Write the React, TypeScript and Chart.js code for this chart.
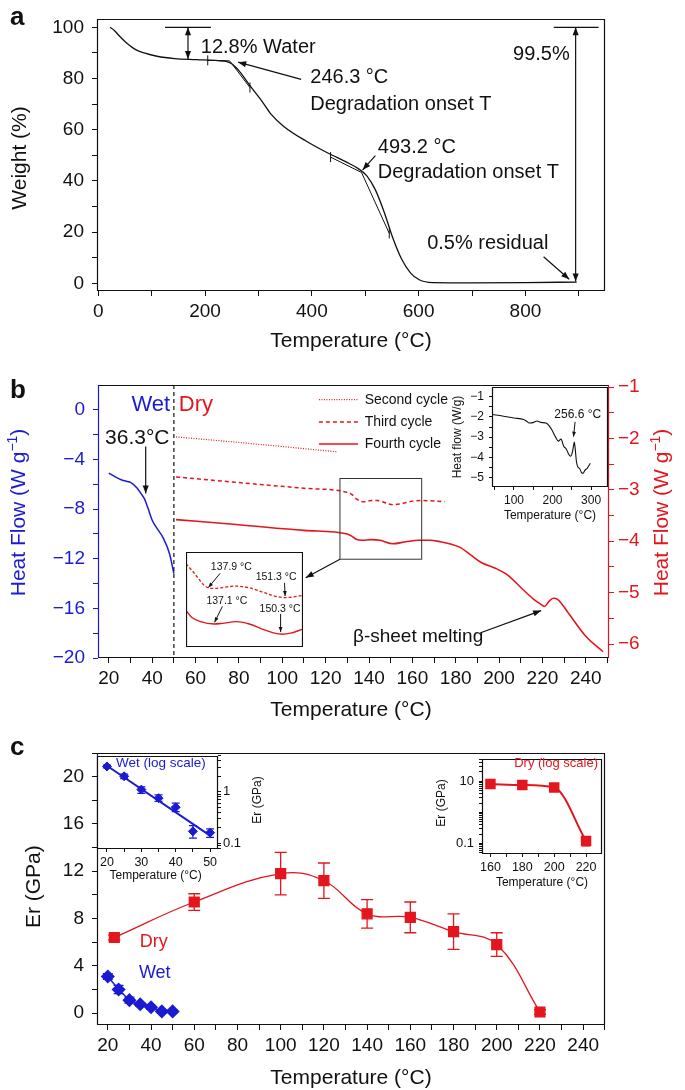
import React, { useEffect, useRef } from 'react';
import { Chart, registerables } from 'chart.js';

Chart.register(...registerables);

const FONT = '"Liberation Sans", Arial, Helvetica, sans-serif';
Chart.defaults.font.family = FONT;

const RED = '#e3161e';
const BLUE = '#1b1bd3';
const BLACK = '#111111';
const MINUS = '\u2212';

// ================= Panel a : TGA =================
const tgaTemp = [22, 30, 40, 53, 70, 86, 110, 143, 184, 225, 241, 250, 258, 266, 274, 282, 290, 307, 323, 348, 389, 429, 470, 487, 503, 519, 536, 552, 568, 585, 601, 626, 700, 800, 896];
const tgaWeight = [100, 98.8, 96.5, 93.9, 91.3, 90.0, 88.7, 87.8, 87.4, 87.0, 86.6, 85.8, 84.3, 82.4, 80.2, 77.8, 75.6, 71.0, 66.2, 61.2, 55.6, 51.0, 46.8, 44.8, 42.0, 36.5, 27.5, 17.5, 9.5, 4.0, 1.4, 0.3, 0.2, 0.3, 0.5];
const onset1Temp = [205, 246, 284];
const onset1Weight = [87.1, 86.9, 76.5];
const onset2Temp = [435, 493, 545];
const onset2Weight = [49.3, 43.3, 19.5];
const onsetMarkTemp = [205, 284, 435, 545];
const onsetMarkWeight = [87.1, 76.5, 49.3, 19.5];
const tgaXTicks = [0, 100, 200, 300, 400, 500, 600, 700, 800, 900];
const tgaXLabels = [0, 200, 400, 600, 800];
const tgaYTicks = [0, 10, 20, 30, 40, 50, 60, 70, 80, 90, 100];
const tgaYLabels = [0, 20, 40, 60, 80, 100];

// ================= Panel b : DSC =================
const wetDscTemp = [20, 23, 26, 28, 30, 33, 35, 36.5, 38, 40, 42, 45, 48, 50];
const wetDscFlow = [-5.1, -5.4, -5.65, -5.75, -5.85, -6.3, -6.8, -7.2, -7.9, -8.9, -9.5, -10.3, -11.6, -13.2];
const secondTemp = [51, 88, 125];
const secondFlow = [-1.97, -2.11, -2.26];
const thirdTemp = [51, 80, 110, 130, 132, 134, 136, 138, 141, 144, 148, 151, 155, 160, 165, 175];
const thirdFlow = [-2.75, -2.86, -2.97, -3.05, -3.09, -3.17, -3.22, -3.23, -3.21, -3.21, -3.26, -3.29, -3.27, -3.22, -3.21, -3.23];
const fourthTemp = [51, 80, 110, 130, 132, 134, 137, 141, 145, 151, 157, 163, 168, 173, 178, 182, 187, 192, 198, 204, 210, 216, 219, 221, 223, 225, 227, 232, 240, 248];
const fourthFlow = [-3.58, -3.68, -3.79, -3.86, -3.9, -3.96, -3.98, -3.97, -3.98, -4.05, -4.01, -3.98, -3.98, -4.01, -4.06, -4.12, -4.27, -4.42, -4.52, -4.66, -4.9, -5.13, -5.22, -5.27, -5.17, -5.11, -5.13, -5.4, -5.85, -6.15];
const dscXTicks = [20, 30, 40, 50, 60, 70, 80, 90, 100, 110, 120, 130, 140, 150, 160, 170, 180, 190, 200, 210, 220, 230, 240, 250];
const dscXLabels = [20, 40, 60, 80, 100, 120, 140, 160, 180, 200, 220, 240];
const wetFlowTicks = [-20, -18, -16, -14, -12, -10, -8, -6, -4, -2, 0];
const wetFlowLabels = [-20, -16, -12, -8, -4, 0];
const dryFlowTicks = [-6, -5.5, -5, -4.5, -4, -3.5, -3, -2.5, -2, -1.5, -1];
const dryFlowLabels = [-6, -5, -4, -3, -2, -1];

// zoomed inset (third / fourth cycle, 134-155 °C)
const zoomThirdTemp = [133.7, 134.7, 135.9, 137.1, 138.7, 140.2, 142.6, 145.0, 147.3, 149.7, 151.3, 152.8, 154.6];
const zoomThirdFlow = [-0.125, -0.189, -0.278, -0.359, -0.384, -0.374, -0.359, -0.377, -0.42, -0.466, -0.48, -0.473, -0.456];
const zoomFourthTemp = [133.7, 134.7, 136.3, 138.7, 140.2, 142.6, 145.0, 147.3, 149.3, 150.9, 152.4, 154.6];
const zoomFourthFlow = [-0.616, -0.687, -0.733, -0.758, -0.751, -0.733, -0.758, -0.811, -0.851, -0.865, -0.854, -0.811];

// DSC inset (W/g, up to 300 °C)
const insetDscTemp = [45, 70, 100, 125, 132, 140, 150, 160, 170, 183, 192, 200, 208, 215, 222, 229, 236, 242, 247, 251, 254, 256.6, 259, 262, 266, 270, 275, 279, 284, 290, 298];
const insetDscFlow = [-1.88, -1.95, -2.05, -2.12, -2.2, -2.3, -2.28, -2.2, -2.27, -2.3, -2.45, -2.7, -3.0, -3.2, -3.1, -3.45, -3.6, -3.85, -3.95, -3.8, -3.5, -3.25, -3.6, -4.2, -4.5, -4.55, -4.75, -4.8, -4.65, -4.55, -4.3];
const insetDscXTicks = [50, 100, 150, 200, 250, 300];
const insetDscXLabels = [100, 200, 300];
const insetDscYTicks = [-5, -4.5, -4, -3.5, -3, -2.5, -2, -1.5, -1];
const insetDscYLabels = [-5, -4, -3, -2, -1];

// ================= Panel c : Er =================
const erDryTemp = [23, 60, 100, 120, 140, 160, 180, 200, 220];
const erDry = [6.4, 9.4, 11.8, 11.2, 8.4, 8.1, 6.9, 5.8, 0.1];
const erDryErr = [0.2, 0.7, 1.8, 1.5, 1.2, 1.3, 1.5, 1.0, 0.2];
const erWetTemp = [20, 25, 30, 35, 40, 45, 50];
const erWet = [3.1, 2.0, 1.1, 0.75, 0.5, 0.15, 0.15];
const erWetErr = [0.25, 0.35, 0.25, 0.15, 0.15, 0.1, 0.1];
const erXTicks = [20, 30, 40, 50, 60, 70, 80, 90, 100, 110, 120, 130, 140, 150, 160, 170, 180, 190, 200, 210, 220, 230, 240, 250];
const erXLabels = [20, 40, 60, 80, 100, 120, 140, 160, 180, 200, 220, 240];
const erYTicks = [0, 2, 4, 6, 8, 10, 12, 14, 16, 18, 20, 22];
const erYLabels = [0, 4, 8, 12, 16, 20];

// wet log inset
const logWetTemp = [20, 25, 30, 35, 40, 45, 50];
const logWetEr = [3.1, 2.0, 1.1, 0.75, 0.5, 0.17, 0.16];
const logWetLow = [2.9, 1.8, 0.93, 0.65, 0.41, 0.125, 0.13];
const logWetHigh = [3.3, 2.2, 1.24, 0.87, 0.6, 0.22, 0.19];
const logWetFitTemp = [20, 50];
const logWetFitEr = [3.2, 0.14];
const logWetXTicks = [20, 25, 30, 35, 40, 45, 50];
const logWetXLabels = [20, 30, 40, 50];
const logWetYTicks = [0.08, 0.09, 0.1, 0.2, 0.3, 0.4, 0.5, 0.6, 0.7, 0.8, 0.9, 1, 2, 3, 4, 5];
const logWetYLabels = [0.1, 1];

// dry log inset
const logDryTemp = [160, 180, 200, 220];
const logDryEr = [8.2, 7.6, 6.3, 0.12];
const logDryLow = [7.0, 6.2, 5.5, 0.085];
const logDryHigh = [9.4, 9.1, 7.1, 0.16];
const logDryXTicks = [160, 170, 180, 190, 200, 210, 220];
const logDryXLabels = [160, 180, 200, 220];
const logDryYTicks = [0.05, 0.06, 0.07, 0.08, 0.09, 0.1, 0.2, 0.3, 0.4, 0.5, 0.6, 0.7, 0.8, 0.9, 1, 2, 3, 4, 5, 6, 7, 8, 9, 10, 20, 30, 40, 50];
const logDryYLabels = [0.1, 10];

// ================= helpers =================
const fmtNum = (v: number) => (v < 0 ? MINUS + String(Math.abs(v)) : String(v));
const pts = (xs: number[], ys: number[]) => xs.map((x, i) => ({ x, y: ys[i] }));

function mkAxis(s: any) {
  const color = s.color ?? BLACK;
  const vertical = s.position === 'left' || s.position === 'right';
  return {
    type: s.type ?? 'linear',
    position: s.position,
    min: s.min,
    max: s.max,
    afterBuildTicks: (axis: any) => {
      axis.ticks = s.ticks.map((v: number) => ({ value: v }));
    },
    afterFit: (axis: any) => {
      if (vertical) axis.width = s.size;
      else axis.height = s.size;
    },
    grid: { drawOnChartArea: false, drawTicks: true, tickLength: s.tickLen ?? 5, color, tickColor: color, tickWidth: 1 },
    border: { display: false },
    ticks: {
      autoSkip: false,
      maxRotation: 0,
      minRotation: 0,
      padding: s.pad ?? 4,
      color,
      font: { family: FONT, size: s.font ?? 19 },
      callback: (v: any) => (s.labels.some((l: number) => Math.abs(l - Number(v)) < 1e-9) ? fmtNum(Number(v)) : ''),
    },
  };
}

function series(xs: number[], ys: number[], color: string, width: number, extra: any = {}) {
  return {
    data: pts(xs, ys),
    showLine: true,
    borderColor: color,
    backgroundColor: color,
    borderWidth: width,
    pointRadius: 0,
    cubicInterpolationMode: 'monotone',
    ...extra,
  };
}

function baseOptions(padding: any, scales: any) {
  return {
    responsive: false,
    animation: false,
    devicePixelRatio: 1,
    events: [],
    layout: { padding },
    plugins: { legend: { display: false }, tooltip: { enabled: false }, title: { display: false } },
    scales,
  };
}

function txt(ctx: any, s: string, x: number, y: number, size: number, color = BLACK, align = 'left', weight = 'normal', baseline = 'middle') {
  ctx.save();
  ctx.font = `${weight} ${size}px ${FONT}`;
  ctx.fillStyle = color;
  ctx.textAlign = align;
  ctx.textBaseline = baseline;
  ctx.fillText(s, x, y);
  ctx.restore();
}

// text made of parts (normal / superscript), rotated -90° when vertical
function rich(ctx: any, parts: Array<[string, boolean]>, cx: number, cy: number, size: number, color: string, vertical = true) {
  ctx.save();
  ctx.translate(cx, cy);
  if (vertical) ctx.rotate(-Math.PI / 2);
  const sup = size * 0.66;
  let total = 0;
  const widths = parts.map(([s, isSup]) => {
    ctx.font = `${isSup ? sup : size}px ${FONT}`;
    const w = ctx.measureText(s).width;
    total += w;
    return w;
  });
  let x = -total / 2;
  ctx.fillStyle = color;
  ctx.textAlign = 'left';
  ctx.textBaseline = 'middle';
  parts.forEach(([s, isSup], i) => {
    ctx.font = `${isSup ? sup : size}px ${FONT}`;
    ctx.fillText(s, x, isSup ? -size * 0.3 : 0);
    x += widths[i];
  });
  ctx.restore();
}

function seg(ctx: any, x1: number, y1: number, x2: number, y2: number, color = BLACK, lw = 1, dash: number[] = []) {
  ctx.save();
  ctx.strokeStyle = color;
  ctx.lineWidth = lw;
  ctx.setLineDash(dash);
  ctx.beginPath();
  ctx.moveTo(x1, y1);
  ctx.lineTo(x2, y2);
  ctx.stroke();
  ctx.restore();
}

function arrow(ctx: any, x1: number, y1: number, x2: number, y2: number, both = false, head = 8, lw = 1.2, color = BLACK) {
  ctx.save();
  ctx.strokeStyle = color;
  ctx.fillStyle = color;
  ctx.lineWidth = lw;
  ctx.beginPath();
  ctx.moveTo(x1, y1);
  ctx.lineTo(x2, y2);
  ctx.stroke();
  const hd = (xa: number, ya: number, xb: number, yb: number) => {
    const a = Math.atan2(yb - ya, xb - xa);
    const c = Math.cos(a), s = Math.sin(a);
    const w = head * 0.38;
    ctx.beginPath();
    ctx.moveTo(xb, yb);
    ctx.lineTo(xb - head * c + w * s, yb - head * s - w * c);
    ctx.lineTo(xb - head * c - w * s, yb - head * s + w * c);
    ctx.closePath();
    ctx.fill();
  };
  hd(x1, y1, x2, y2);
  if (both) hd(x2, y2, x1, y1);
  ctx.restore();
}

function frame(ctx: any, ca: any, c: any = {}) {
  const l = Math.round(ca.left) + 0.5, r = Math.round(ca.right) - 0.5, t = Math.round(ca.top) + 0.5, b = Math.round(ca.bottom) - 0.5;
  seg(ctx, l - 0.5, t, r + 0.5, t, c.top ?? BLACK, 1.2);
  seg(ctx, l - 0.5, b, r + 0.5, b, c.bottom ?? BLACK, 1.2);
  seg(ctx, l, t, l, b, c.left ?? BLACK, 1.2);
  seg(ctx, r, t, r, b, c.right ?? BLACK, 1.2);
}

const whiteBg = {
  id: 'whiteBg',
  beforeDatasetsDraw(chart: any) {
    const { ctx, chartArea: ca } = chart;
    ctx.save();
    ctx.fillStyle = '#ffffff';
    ctx.fillRect(ca.left, ca.top, ca.right - ca.left, ca.bottom - ca.top);
    ctx.restore();
  },
};

const errorBars = {
  id: 'errorBars',
  afterDatasetsDraw(chart: any) {
    const ctx = chart.ctx;
    chart.data.datasets.forEach((ds: any, i: number) => {
      if (!ds.errLo) return;
      const meta = chart.getDatasetMeta(i);
      const xs = chart.scales[meta.xAxisID];
      const ys = chart.scales[meta.yAxisID];
      const cap = ds.errCap ?? 5;
      ctx.save();
      ctx.strokeStyle = ds.borderColor;
      ctx.lineWidth = ds.errWidth ?? 1.3;
      ds.data.forEach((p: any, j: number) => {
        const x = xs.getPixelForValue(p.x);
        const y1 = ys.getPixelForValue(ds.errLo[j]);
        const y2 = ys.getPixelForValue(ds.errHi[j]);
        ctx.beginPath();
        ctx.moveTo(x, y1);
        ctx.lineTo(x, y2);
        ctx.moveTo(x - cap, y1);
        ctx.lineTo(x + cap, y1);
        ctx.moveTo(x - cap, y2);
        ctx.lineTo(x + cap, y2);
        ctx.stroke();
      });
      ctx.restore();
    });
  },
};

// ================= configs =================
function configA(): any {
  const draw = (chart: any) => {
    const { ctx, chartArea: ca } = chart;
    const X = (v: number) => chart.scales.x.getPixelForValue(v);
    const Y = (v: number) => chart.scales.y.getPixelForValue(v);
    frame(ctx, ca);
    seg(ctx, X(125), Y(100), X(211), Y(100), BLACK, 1.3);
    arrow(ctx, X(168), Y(100), X(168), Y(87.6), true, 8);
    txt(ctx, '12.8% Water', X(192), Y(92), 20);
    arrow(ctx, X(380), Y(79.7), X(262), Y(86.4));
    txt(ctx, '246.3 °C', X(397), Y(80.3), 20);
    txt(ctx, 'Degradation onset T', X(397), Y(70), 20);
    txt(ctx, '493.2 °C', X(523.5), Y(53.1), 20);
    txt(ctx, 'Degradation onset T', X(523.5), Y(43.4), 20);
    arrow(ctx, X(519), Y(49.9), X(495), Y(44.3));
    txt(ctx, '99.5%', X(883), Y(89.4), 20, BLACK, 'right');
    seg(ctx, X(853), Y(100), X(937), Y(100), BLACK, 1.3);
    arrow(ctx, X(894), Y(100), X(894), Y(0.7), true, 8);
    txt(ctx, '0.5% residual', X(616), Y(15.5), 20);
    arrow(ctx, X(834), Y(10.4), X(882), Y(1.6));
    rich(ctx, [['Weight (%)', false]], 20, 158, 21, BLACK);
    txt(ctx, 'Temperature (°C)', 351, 341, 21, BLACK, 'center');
    txt(ctx, 'a', 10, 25, 26, BLACK, 'left', 'bold', 'alphabetic');
  };
  return {
    type: 'scatter',
    data: {
      datasets: [
        series(tgaTemp, tgaWeight, BLACK, 1.3),
        series(onset1Temp, onset1Weight, BLACK, 1, { cubicInterpolationMode: 'default', tension: 0 }),
        series(onset2Temp, onset2Weight, BLACK, 1, { cubicInterpolationMode: 'default', tension: 0 }),
        { data: pts(onsetMarkTemp, onsetMarkWeight), showLine: false, pointStyle: 'line', rotation: 90, pointRadius: 5, borderColor: BLACK, borderWidth: 1 },
      ],
    },
    options: baseOptions(
      { left: 0, right: 80, top: 18, bottom: 0 },
      {
        x: mkAxis({ position: 'bottom', min: -2.4, max: 949, ticks: tgaXTicks, labels: tgaXLabels, size: 71, pad: 4 }),
        y: mkAxis({ position: 'left', min: -3, max: 103.1, ticks: tgaYTicks, labels: tgaYLabels, size: 97, pad: 8 }),
      }
    ),
    plugins: [{ id: 'decoA', afterDraw: draw }],
  };
}

function configB(): any {
  const draw = (chart: any) => {
    const { ctx, chartArea: ca } = chart;
    const X = (v: number) => chart.scales.x.getPixelForValue(v);
    const YB = (v: number) => chart.scales.y.getPixelForValue(v);
    const YR = (v: number) => chart.scales.y2.getPixelForValue(v);
    frame(ctx, ca, { left: BLUE, right: RED });
    seg(ctx, X(50), ca.top, X(50), ca.bottom, BLACK, 1.2, [4, 3]);
    txt(ctx, 'Wet', X(48.3), YB(0.4), 22, BLUE, 'right');
    txt(ctx, 'Dry', X(52.3), YB(0.4), 22, RED, 'left');
    txt(ctx, '36.3°C', X(33.1), YB(-2.28), 21, BLACK, 'center');
    arrow(ctx, X(37), YB(-2.95), X(37), YB(-6.75));
    // legend
    const lx1 = X(116.9), lx2 = X(135), tx = X(138);
    seg(ctx, lx1, YR(-1.246), lx2, YR(-1.246), RED, 1.2, [1, 1.5]);
    txt(ctx, 'Second cycle', tx, YR(-1.246), 14);
    seg(ctx, lx1, YR(-1.68), lx2, YR(-1.68), RED, 1.5, [4, 3]);
    txt(ctx, 'Third cycle', tx, YR(-1.68), 14);
    seg(ctx, lx1, YR(-2.11), lx2, YR(-2.11), RED, 1.6);
    txt(ctx, 'Fourth cycle', tx, YR(-2.11), 14);
    // zoom box
    ctx.save();
    ctx.strokeStyle = '#333';
    ctx.lineWidth = 1;
    ctx.strokeRect(X(126.6), YR(-2.78), X(164.3) - X(126.6), YR(-4.35) - YR(-2.78));
    ctx.restore();
    arrow(ctx, X(126.6), YR(-4.35), X(110.8), YR(-4.71));
    txt(ctx, 'β-sheet melting', X(132.6), YR(-5.86), 19);
    arrow(ctx, X(191.5), YR(-5.78), X(219.4), YR(-5.35));
    rich(ctx, [['Heat Flow (W g', false], [MINUS + '1', true], [')', false]], 19.5, 150.5, 21, BLUE);
    rich(ctx, [['Heat Flow (W g', false], [MINUS + '1', true], [')', false]], 662, 150.5, 21, RED);
    txt(ctx, 'Temperature (°C)', 351, 348, 21, BLACK, 'center');
    txt(ctx, 'b', 10, 36, 26, BLACK, 'left', 'bold', 'alphabetic');
  };
  return {
    type: 'scatter',
    data: {
      datasets: [
        series(wetDscTemp, wetDscFlow, BLUE, 1.5, { yAxisID: 'y' }),
        series(secondTemp, secondFlow, RED, 1.2, { yAxisID: 'y2', borderDash: [1, 1.5] }),
        series(thirdTemp, thirdFlow, RED, 1.5, { yAxisID: 'y2', borderDash: [4, 3] }),
        series(fourthTemp, fourthFlow, RED, 1.6, { yAxisID: 'y2' }),
      ],
    },
    options: baseOptions(
      { left: 0, right: 0, top: 23, bottom: 0 },
      {
        x: mkAxis({ position: 'bottom', min: 15, max: 250.7, ticks: dscXTicks, labels: dscXLabels, size: 67, pad: 4 }),
        y: mkAxis({ position: 'left', min: -20, max: 2, ticks: wetFlowTicks, labels: wetFlowLabels, size: 98, pad: 8, color: BLUE }),
        y2: mkAxis({ position: 'right', min: -6.272, max: -0.961, ticks: dryFlowTicks, labels: dryFlowLabels, size: 76, pad: 4, color: RED }),
      }
    ),
    plugins: [{ id: 'decoB', afterDraw: draw }],
  };
}

function configBZoom(): any {
  const draw = (chart: any) => {
    const { ctx, chartArea: ca } = chart;
    const X = (v: number) => chart.scales.x.getPixelForValue(v);
    const Y = (v: number) => chart.scales.y.getPixelForValue(v);
    frame(ctx, ca);
    txt(ctx, '137.9 °C', X(141.8), Y(-0.164), 10.5, BLACK, 'center');
    arrow(ctx, X(139.8), Y(-0.224), X(137.7), Y(-0.374), false, 5, 1);
    txt(ctx, '151.3 °C', X(149.8), Y(-0.267), 10.5, BLACK, 'center');
    arrow(ctx, X(151.3), Y(-0.324), X(151.4), Y(-0.463), false, 5, 1);
    txt(ctx, '137.1 °C', X(141.0), Y(-0.516), 10.5, BLACK, 'center');
    arrow(ctx, X(140.2), Y(-0.573), X(138.8), Y(-0.74), false, 5, 1);
    txt(ctx, '150.3 °C', X(150.5), Y(-0.598), 10.5, BLACK, 'center');
    arrow(ctx, X(150.6), Y(-0.651), X(150.6), Y(-0.843), false, 5, 1);
  };
  return {
    type: 'scatter',
    data: {
      datasets: [
        series(zoomThirdTemp, zoomThirdFlow, RED, 1.3, { borderDash: [3, 2] }),
        series(zoomFourthTemp, zoomFourthFlow, RED, 1.4),
      ],
    },
    options: baseOptions(
      { left: 0, right: 0, top: 0, bottom: 0 },
      {
        x: { type: 'linear', min: 133.7, max: 154.6, display: false },
        y: { type: 'linear', min: -1, max: 0, display: false },
      }
    ),
    plugins: [whiteBg, { id: 'decoBZ', afterDraw: draw }],
  };
}

function configBInset(): any {
  const draw = (chart: any) => {
    const { ctx, chartArea: ca } = chart;
    const X = (v: number) => chart.scales.x.getPixelForValue(v);
    const Y = (v: number) => chart.scales.y.getPixelForValue(v);
    frame(ctx, ca);
    txt(ctx, '256.6 °C', X(265.5), Y(-1.91), 12, BLACK, 'center');
    arrow(ctx, X(258.6), Y(-2.24), X(254.5), Y(-2.98), false, 5, 1);
    rich(ctx, [['Heat flow (W/g)', false]], 18, 62, 12, BLACK);
    txt(ctx, 'Temperature (°C)', 110, 140.7, 12, BLACK, 'center');
  };
  return {
    type: 'scatter',
    data: { datasets: [series(insetDscTemp, insetDscFlow, BLACK, 1.1)] },
    options: baseOptions(
      { left: 0, right: 2, top: 12, bottom: 0 },
      {
        x: mkAxis({ position: 'bottom', min: 43, max: 344, ticks: insetDscXTicks, labels: insetDscXLabels, size: 38, pad: 3, tickLen: 3, font: 12 }),
        y: mkAxis({ position: 'left', min: -5.48, max: -0.52, ticks: insetDscYTicks, labels: insetDscYLabels, size: 52, pad: 5, tickLen: 3, font: 12 }),
      }
    ),
    plugins: [whiteBg, { id: 'decoBI', afterDraw: draw }],
  };
}

function configC(): any {
  const draw = (chart: any) => {
    const { ctx, chartArea: ca } = chart;
    const X = (v: number) => chart.scales.x.getPixelForValue(v);
    const Y = (v: number) => chart.scales.y.getPixelForValue(v);
    frame(ctx, ca);
    txt(ctx, 'Dry', X(34.8), Y(6.0), 18, RED);
    txt(ctx, 'Wet', X(34.4), Y(3.38), 18, BLUE);
    rich(ctx, [['Er (GPa)', false]], 34, 161.7, 21, BLACK);
    txt(ctx, 'Temperature (°C)', 351, 353, 21, BLACK, 'center');
    txt(ctx, 'c', 10, 30, 26, BLACK, 'left', 'bold', 'alphabetic');
  };
  return {
    type: 'scatter',
    data: {
      datasets: [
        series(erDryTemp, erDry, RED, 1.3, {
          cubicInterpolationMode: 'default', tension: 0.4, pointRadius: 7, pointStyle: 'rect',
          errLo: erDry.map((v, i) => v - erDryErr[i]), errHi: erDry.map((v, i) => v + erDryErr[i]), errCap: 6,
        }),
        series(erWetTemp, erWet, BLUE, 1.5, {
          cubicInterpolationMode: 'default', tension: 0, pointRadius: 6, pointStyle: 'rectRot',
          errLo: erWet.map((v, i) => v - erWetErr[i]), errHi: erWet.map((v, i) => v + erWetErr[i]), errCap: 5,
        }),
      ],
    },
    options: baseOptions(
      { left: 0, right: 80, top: 28, bottom: 0 },
      {
        x: mkAxis({ position: 'bottom', min: 15, max: 250.1, ticks: erXTicks, labels: erXLabels, size: 65, pad: 4 }),
        y: mkAxis({ position: 'left', min: -1, max: 22, ticks: erYTicks, labels: erYLabels, size: 97, pad: 8 }),
      }
    ),
    plugins: [errorBars, { id: 'decoC', afterDraw: draw }],
  };
}

function configCWet(): any {
  const draw = (chart: any) => {
    const { ctx, chartArea: ca } = chart;
    frame(ctx, ca);
    txt(ctx, 'Wet (log scale)', 26, 17, 13.5, BLUE);
    rich(ctx, [['Er (GPa)', false]], 168, 54, 12, BLACK);
    txt(ctx, 'Temperature (°C)', 65.6, 130, 12, BLACK, 'center');
  };
  return {
    type: 'scatter',
    data: {
      datasets: [
        series(logWetFitTemp, logWetFitEr, BLUE, 2, { cubicInterpolationMode: 'default', tension: 0 }),
        {
          data: pts(logWetTemp, logWetEr), showLine: false, pointStyle: 'rectRot', pointRadius: 4.5,
          borderColor: BLUE, backgroundColor: BLUE, borderWidth: 1,
          errLo: logWetLow, errHi: logWetHigh, errCap: 4, errWidth: 1.2,
        },
      ],
    },
    options: baseOptions(
      { left: 7, right: 0, top: 7, bottom: 0 },
      {
        x: mkAxis({ position: 'bottom', min: 17.1, max: 52.3, ticks: logWetXTicks, labels: logWetXLabels, size: 47, pad: 3, tickLen: 3, font: 12.5 }),
        y: mkAxis({ type: 'logarithmic', position: 'right', min: 0.077, max: 5, ticks: logWetYTicks, labels: logWetYLabels, size: 57, pad: 2, tickLen: 3, font: 13 }),
      }
    ),
    plugins: [whiteBg, errorBars, { id: 'decoCW', afterDraw: draw }],
  };
}

function configCDry(): any {
  const draw = (chart: any) => {
    const { ctx, chartArea: ca } = chart;
    frame(ctx, ca);
    txt(ctx, 'Dry (log scale)', 173, 17, 13, RED, 'right');
    rich(ctx, [['Er (GPa)', false]], 17, 57, 12, BLACK);
    txt(ctx, 'Temperature (°C)', 117, 137, 12, BLACK, 'center');
  };
  return {
    type: 'scatter',
    data: {
      datasets: [
        series(logDryTemp, logDryEr, RED, 2, {
          pointStyle: 'rect', pointRadius: 6,
          errLo: logDryLow, errHi: logDryHigh, errCap: 4, errWidth: 1.4,
        }),
      ],
    },
    options: baseOptions(
      { left: 0, right: 5, top: 7, bottom: 0 },
      {
        x: mkAxis({ position: 'bottom', min: 154.7, max: 230, ticks: logDryXTicks, labels: logDryXLabels, size: 42, pad: 3, tickLen: 3, font: 12.5 }),
        y: mkAxis({ type: 'logarithmic', position: 'left', min: 0.046, max: 53, ticks: logDryYTicks, labels: logDryYLabels, size: 57, pad: 5, tickLen: 3, font: 13 }),
      }
    ),
    plugins: [whiteBg, errorBars, { id: 'decoCD', afterDraw: draw }],
  };
}

type Spec = { left: number; top: number; width: number; height: number; make: () => any };

const CANVASES: Spec[] = [
  { left: 0, top: 0, width: 685, height: 362, make: configA },
  { left: 0, top: 362, width: 685, height: 363, make: configB },
  { left: 186, top: 552, width: 117, height: 95, make: configBZoom },
  { left: 440, top: 375, width: 170, height: 150, make: configBInset },
  { left: 0, top: 725, width: 685, height: 365, make: configC },
  { left: 90, top: 746, width: 185, height: 150, make: configCWet },
  { left: 425, top: 746, width: 185, height: 150, make: configCDry },
];

export default function App() {
  const refs = useRef<Array<HTMLCanvasElement | null>>([]);
  useEffect(() => {
    const charts: Chart[] = [];
    CANVASES.forEach((spec, i) => {
      const el = refs.current[i];
      if (el) charts.push(new Chart(el, spec.make()));
    });
    return () => charts.forEach((c) => c.destroy());
  }, []);
  return (
    <div style={{ position: 'absolute', left: 0, top: 0, width: 685, height: 1090, background: '#ffffff', overflow: 'hidden' }}>
      {CANVASES.map((s, i) => (
        <canvas
          key={i}
          ref={(el) => {
            refs.current[i] = el;
          }}
          width={s.width}
          height={s.height}
          style={{ position: 'absolute', left: s.left, top: s.top, width: s.width, height: s.height }}
        />
      ))}
    </div>
  );
}
